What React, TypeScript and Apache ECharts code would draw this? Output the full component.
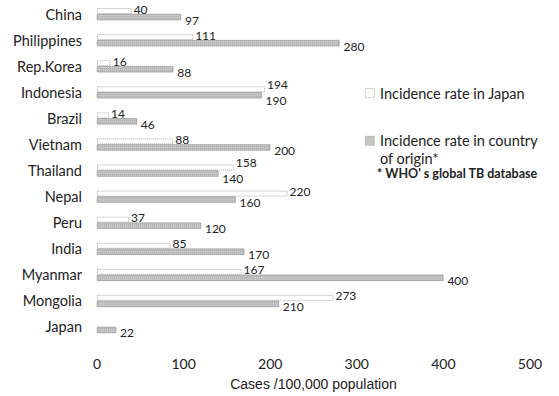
import React, { useEffect, useRef } from "react";
import * as echarts from "echarts";

const categories = [
  "China", "Philippines", "Rep.Korea", "Indonesia", "Brazil", "Vietnam",
  "Thailand", "Nepal", "Peru", "India", "Myanmar", "Mongolia", "Japan",
];
const japanRate: (number | null)[] = [40, 111, 16, 194, 14, 88, 158, 220, 37, 85, 167, 273, null];
const originRate = [97, 280, 88, 190, 46, 200, 140, 160, 120, 170, 400, 210, 22];
const xTicks = [0, 100, 200, 300, 400, 500];

const FONT = "Lato, 'Open Sans', sans-serif";

// rows where both labels end up close together get pushed further apart
const isClose = (i: number) => {
  const j = japanRate[i];
  return j != null && Math.abs(j - originRate[i]) < 25;
};

export default function App() {
  const ref = useRef<HTMLDivElement>(null);
  useEffect(() => {
    if (!ref.current) return;
    const chart = echarts.init(ref.current, undefined, { renderer: "svg" });
    const japanData = japanRate.map((v, i) => ({
      value: v,
      label: { offset: [0, isClose(i) ? -5 : -2] },
    }));
    const originData = originRate.map((v, i) => ({
      value: v,
      label: { offset: [0, isClose(i) ? 5 : 3] },
    }));
    chart.setOption({
      animation: false,
      backgroundColor: "#ffffff",
      grid: { left: 97, right: 29, top: 1, bottom: 54 },
      xAxis: {
        type: "value",
        min: xTicks[0],
        max: xTicks[xTicks.length - 1],
        interval: 100,
        axisLine: { show: false },
        axisTick: { show: false },
        splitLine: { show: false },
        axisLabel: { margin: 16, fontSize: 14, color: "#222", fontFamily: FONT },
        name: "Cases /100,000 population",
        nameLocation: "middle",
        nameGap: 37,
        nameTextStyle: { fontSize: 14, color: "#222", fontFamily: "'Liberation Sans', Arial, sans-serif" },
      },
      yAxis: {
        type: "category",
        data: categories,
        inverse: true,
        axisLine: { show: false },
        axisTick: { show: false },
        axisLabel: { margin: 15, fontSize: 14.5, color: "#222", fontFamily: FONT },
      },
      series: [
        {
          name: "Incidence rate in Japan",
          type: "bar",
          data: japanData,
          barWidth: 6,
          barGap: "0%",
          itemStyle: { color: "#ffffff", borderColor: "#aaaaaa", borderWidth: 1, borderType: "dotted" },
          label: { show: true, position: "right", distance: 2, fontSize: 12, lineHeight: 12, color: "#222", fontFamily: FONT },
        },
        {
          name: "Incidence rate in country of origin*",
          type: "bar",
          data: originData,
          barWidth: 6,
          barGap: "0%",
          itemStyle: {
            color: "#c6c6c6",
            borderColor: "#9e9e9e",
            borderWidth: 0.5,
            decal: { symbol: "rect", symbolSize: 1, dashArrayX: [1, 1], dashArrayY: [1, 1], color: "rgba(0,0,0,0.12)" },
          },
          label: { show: true, position: "right", distance: 4, fontSize: 12, lineHeight: 12, color: "#222", fontFamily: FONT },
        },
      ],
      graphic: [
        { type: "rect", left: 365, top: 88, shape: { width: 9, height: 9 }, style: { fill: "#fff", stroke: "#aaa", lineWidth: 1, lineDash: [1, 1] } },
        { type: "text", left: 380, top: 84, style: { text: "Incidence rate in Japan", font: `14.5px ${FONT}`, fill: "#222", lineHeight: 18 } },
        { type: "rect", left: 365, top: 136, shape: { width: 9, height: 9 }, style: { fill: "#c6c6c6", stroke: "#999", lineWidth: 0.5 } },
        { type: "text", left: 380, top: 131, style: { text: "Incidence rate in country\nof origin*", font: `14.5px ${FONT}`, fill: "#222", lineHeight: 18 } },
        { type: "text", left: 377, top: 166, style: { text: "* WHO' s global TB database", font: `bold 12.5px ${FONT}`, fill: "#222", lineHeight: 15 } },
      ],
    });
    return () => chart.dispose();
  }, []);
  return <div ref={ref} style={{ width: 559, height: 396, position: "absolute", left: 0, top: 0 }} />;
}
